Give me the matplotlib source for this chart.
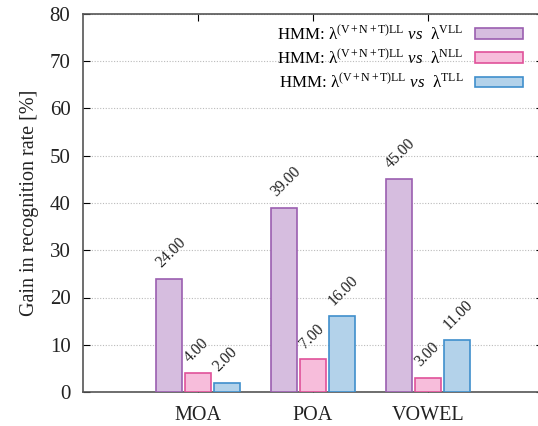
import matplotlib
matplotlib.use("Agg")
import matplotlib.pyplot as plt
import numpy as np

categories = ["MOA", "POA", "VOWEL"]
vll = [24.00, 39.00, 45.00]
nll = [4.00, 7.00, 3.00]
tll = [2.00, 16.00, 11.00]
series_labels = [
    r"HMM: $\mathregular{\lambda^{(V+N+T)LL}}$ $\it{vs}$  $\mathregular{\lambda^{VLL}}$",
    r"HMM: $\mathregular{\lambda^{(V+N+T)LL}}$ $\it{vs}$  $\mathregular{\lambda^{NLL}}$",
    r"HMM: $\mathregular{\lambda^{(V+N+T)LL}}$ $\it{vs}$  $\mathregular{\lambda^{TLL}}$",
]
yticks = [0, 10, 20, 30, 40, 50, 60, 70, 80]

plt.rcParams['font.family'] = ['Liberation Serif', 'DejaVu Serif']
plt.rcParams['mathtext.fontset'] = 'custom'
plt.rcParams['mathtext.rm'] = 'Liberation Serif'
plt.rcParams['mathtext.it'] = 'Liberation Serif:italic'
plt.rcParams['mathtext.bf'] = 'Liberation Serif:bold'

fig = plt.figure(figsize=(5.38, 4.26), dpi=100)
ax = fig.add_axes([83/538, 34/426, 460/538, 378/426])

fills = ["#d6bddf", "#f7bddb", "#b3d2ea"]
edges = ["#9b5fb0", "#e0529a", "#3f8fcc"]
series = [vll, nll, tll]
x = np.arange(1, len(categories) + 1)
step = 0.25
width = 0.225
for i, (vals, fc, ec, lab) in enumerate(zip(series, fills, edges, series_labels)):
    pos = x + (i - 1) * step
    ax.bar(pos, vals, width=width, color=fc, edgecolor=ec, linewidth=1.2,
           label=lab, zorder=3)
    for px, v in zip(pos, vals):
        ax.text(px - 0.045, v + 1.6, f"{v:.2f}", rotation=45,
                rotation_mode='anchor', ha='left', va='bottom',
                fontsize=11.3, color="#222222", zorder=4)

ax.set_xlim(0, 4)
ax.set_ylim(0, 80)
ax.set_yticks(yticks)
ax.set_xticks(x)
ax.set_xticklabels(categories, fontsize=14.5)
ax.tick_params(axis='y', labelsize=15, direction='in', right=True, length=5, width=0.8, pad=9)
ax.tick_params(axis='x', direction='in', top=True, length=5, width=0.8, pad=10)
for lab in ax.get_yticklabels() + ax.get_xticklabels():
    lab.set_color("#222222")
ax.yaxis.grid(True, linestyle=(0, (1, 1.5)), color="#bbbbbb", linewidth=0.8, zorder=0)
for s in ax.spines.values():
    s.set_color("#555555")
    s.set_linewidth(1.2)
ax.set_ylabel("Gain in recognition rate [%]", fontsize=14.5, labelpad=8, color="#222222")

leg = ax.legend(loc='upper right', bbox_to_anchor=(537/538, 1 - 11/426),
                bbox_transform=fig.transFigure, frameon=False,
                markerfirst=False, fontsize=12.2, handlelength=2.85, handleheight=0.6,
                labelspacing=0.32, handletextpad=0.7, borderpad=0.3)
for t in leg.get_texts():
    t.set_ha('right')

fig.savefig("out.png", dpi=100)
